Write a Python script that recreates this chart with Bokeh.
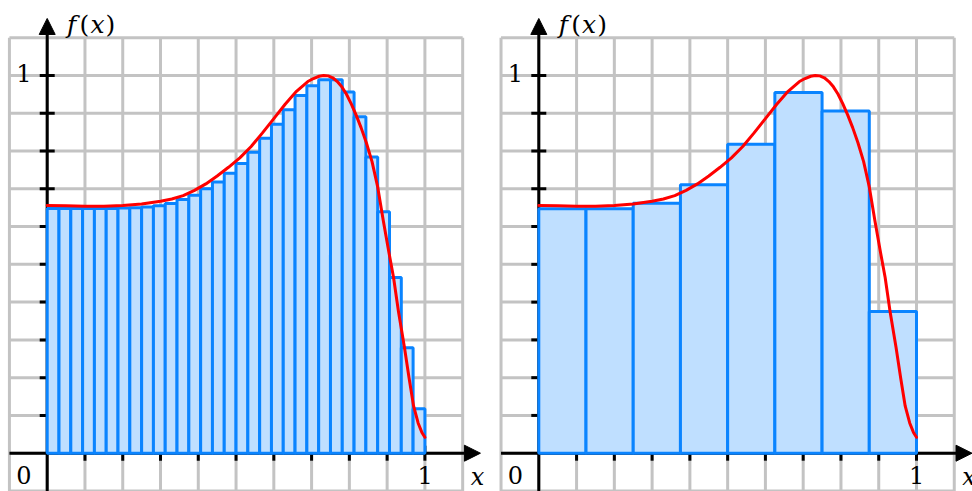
import numpy as np
from bokeh.plotting import figure
from bokeh.layouts import row
from bokeh.models import Range1d, Arrow, NormalHead
from bokeh.core.properties import value
from bokeh.embed import file_html
from bokeh.resources import INLINE

# Sampled points of f(x) on [0, 1]
curve_x = [0.000, 0.050, 0.100, 0.150, 0.200, 0.250, 0.300, 0.330, 0.360, 0.390,
           0.420, 0.450, 0.480, 0.510, 0.540, 0.570, 0.600, 0.630, 0.660, 0.690,
           0.705, 0.720, 0.732, 0.744, 0.756, 0.768, 0.780, 0.792, 0.805, 0.818,
           0.831, 0.845, 0.860, 0.875, 0.890, 0.905, 0.917, 0.930, 0.946, 0.958,
           0.970, 0.982, 0.992, 1.000]
curve_y = [0.656, 0.655, 0.654, 0.654, 0.656, 0.660, 0.667, 0.673, 0.682, 0.696,
           0.713, 0.734, 0.757, 0.782, 0.812, 0.848, 0.886, 0.924, 0.958, 0.984,
           0.992, 0.998, 1.000, 0.999, 0.994, 0.984, 0.970, 0.951, 0.925, 0.895,
           0.862, 0.822, 0.772, 0.705, 0.615, 0.530, 0.465, 0.375, 0.279, 0.200,
           0.125, 0.080, 0.055, 0.042]

# Mean value of f on each of 32 equal subintervals
fine_heights = [0.648, 0.648, 0.648, 0.648, 0.648, 0.648, 0.649, 0.650,
                0.652, 0.655, 0.661, 0.672, 0.683, 0.700, 0.718, 0.741,
                0.767, 0.797, 0.834, 0.871, 0.909, 0.947, 0.973, 0.989,
                0.989, 0.956, 0.891, 0.784, 0.639, 0.465, 0.279, 0.118]

# Mean value of f on each of 8 equal subintervals
coarse_heights = [0.647, 0.647, 0.662, 0.711, 0.818, 0.955, 0.906, 0.375]

tick_values = [0.1, 0.2, 0.3, 0.4, 0.5, 0.6, 0.7, 0.8, 0.9, 1.0]
grid_values = [-0.1, 0.0, 0.1, 0.2, 0.3, 0.4, 0.5, 0.6, 0.7, 0.8, 0.9, 1.0, 1.1]

PX = 377.7          # pixels per unit
W, H = 486, 491
ORIGIN_Y = 452.7    # pixel row of y = 0 (from top)

SERIF = value("DejaVu Serif")
LIFT = 10.5 / PX    # baseline correction for the svg text


def panel(heights, origin_x):
    x0 = -origin_x / PX
    x1 = (W - origin_x) / PX
    y0 = -(H - ORIGIN_Y) / PX
    y1 = ORIGIN_Y / PX
    p = figure(width=W, height=H, x_range=Range1d(x0, x1), y_range=Range1d(y0, y1),
               output_backend="svg", toolbar_location=None, min_border=0,
               x_axis_type=None, y_axis_type=None)
    p.grid.visible = False
    p.outline_line_color = None
    p.background_fill_color = "white"

    # square grid
    gv = np.array(grid_values)
    g1 = p.segment(x0=gv, y0=-0.1, x1=gv, y1=1.1, line_color="#c3c3c3", line_width=3)
    g2 = p.segment(x0=-0.1, y0=gv, x1=1.1, y1=gv, line_color="#c3c3c3", line_width=3)
    g1.level = "image"
    g2.level = "image"

    # axes with arrow heads
    for xs, ys, xe, ye in [(-0.1, 0, 1.147, 0), (0, y0, 0, 1.151)]:
        a = Arrow(x_start=xs, y_start=ys, x_end=xe, y_end=ye, line_width=3,
                  line_color="black",
                  end=NormalHead(size=16, fill_color="black", line_color="black",
                                 line_width=1))
        a.level = "underlay"
        p.add_layout(a)

    # tick marks
    tv = np.array(tick_values)
    p.scatter(x=0, y=tv, marker="dash", size=15, line_width=3, line_color="black")
    p.scatter(x=tv, y=0, marker="dash", angle=np.pi / 2, size=15, line_width=3,
              line_color="black")

    # Riemann bars
    n = len(heights)
    edges = np.linspace(0, 1, n + 1)
    p.quad(left=edges[:-1], right=edges[1:], bottom=0, top=heights,
           fill_color="#bfdfff", line_color="#0a84ff", line_width=3)

    # the function
    p.line(curve_x, curve_y, line_color="#ff0000", line_width=3,
           line_join="round", line_cap="round")

    # labels
    base_low = -0.086 + LIFT
    p.text(x=[-0.062, 1.0005, -0.062], y=[base_low, base_low, 0.979 + LIFT],
           text=["0", "1", "1"], text_font=SERIF, text_font_size="24px",
           text_align="center", text_baseline="alphabetic", text_color="black")
    p.text(x=[1.139], y=[-0.091 + LIFT], text=["x"], text_font=SERIF,
           text_font_size="24px", text_font_style="italic",
           text_align="center", text_baseline="alphabetic", text_color="black")
    # f(x) with italic letters and upright parentheses
    top_base = 1.108 + LIFT
    p.text(x=[24.5 / PX, 50.3 / PX], y=[top_base, top_base], text=["f", "x"],
           text_font=SERIF, text_font_size="25px", text_font_style="italic",
           text_align="center", text_baseline="alphabetic", text_color="black")
    p.text(x=[37.3 / PX, 63.3 / PX], y=[top_base, top_base], text=["(", ")"],
           text_font=SERIF, text_font_size="25px",
           text_align="center", text_baseline="alphabetic", text_color="black")
    return p


left = panel(fine_heights, 46.7)
right = panel(coarse_heights, 538.3 - W)

layout = row(left, right)
open("out.html", "w").write(file_html(layout, INLINE))
